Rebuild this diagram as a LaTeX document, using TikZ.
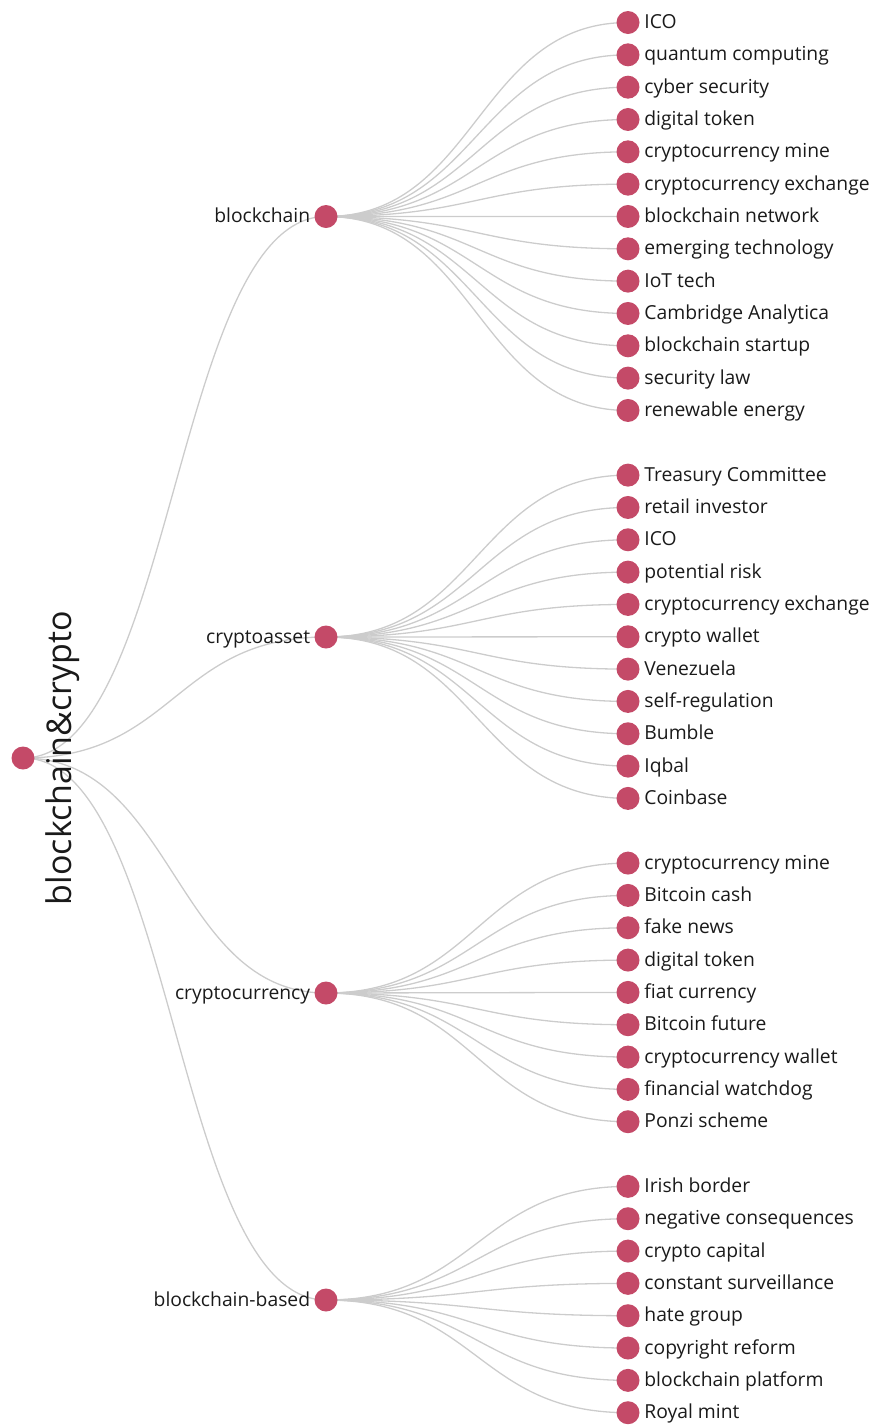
\documentclass[tikz,border=0pt]{standalone}
\usepackage{fontspec}
\setmainfont{Open Sans}
\usetikzlibrary{positioning,backgrounds}
\definecolor{dotred}{HTML}{C44A68}
\definecolor{linkgray}{HTML}{CCCCCC}
\definecolor{tagblack}{HTML}{1A1A1A}

\begin{document}
\begin{tikzpicture}[x=1pt, y=-1pt,
        dot/.style={circle, fill=dotred, minimum size=23pt, inner sep=0pt},
        tag/.style={font=\fontsize{19.3}{22}\selectfont, text=tagblack, inner sep=1pt,
            text height=15pt, text depth=3pt},
        roottag/.style={font=\fontsize{34}{38}\selectfont, text=tagblack, inner sep=0pt, rotate=90},
        link/.style={draw=linkgray, line width=1.3pt}
    ]
    \useasboundingbox (0,0) rectangle (876,1428);

    % root and first level
    \node[dot] (root) at (23,758) {};
    \node[roottag] (rootname) at (63,758) {blockchain\&crypto};

    \node[dot] (blockchain) at (326,216.5) {};
    \node[dot] (cryptoasset) at (326,637) {};
    \node[dot] (cryptocurrency) at (326,993) {};
    \node[dot] (based) at (326,1300) {};
    \node[tag, left=3pt of blockchain] {blockchain};
    \node[tag, left=3pt of cryptoasset] {cryptoasset};
    \node[tag, left=3pt of cryptocurrency] {cryptocurrency};
    \node[tag, left=3pt of based] {blockchain-based};

    % leaves
    \foreach \txt [count=\i from 0] in {ICO, quantum computing, cyber security, digital token,
        cryptocurrency mine, cryptocurrency exchange, blockchain network, emerging technology,
        IoT tech, Cambridge Analytica, blockchain startup, security law, renewable energy} {
        \node[dot] (a\i) at (628,22.5+32.33*\i) {};
        \node[tag, right=3.5pt of a\i] {\txt};
    }
    \foreach \txt [count=\i from 0] in {Treasury Committee, retail investor, ICO, potential risk,
        cryptocurrency exchange, crypto wallet, Venezuela, self-regulation, Bumble, Iqbal, Coinbase} {
        \node[dot] (b\i) at (628,22.5+32.33*14+32.33*\i) {};
        \node[tag, right=3.5pt of b\i] {\txt};
    }
    \foreach \txt [count=\i from 0] in {cryptocurrency mine, Bitcoin cash, fake news, digital token,
        fiat currency, Bitcoin future, cryptocurrency wallet, financial watchdog, Ponzi scheme} {
        \node[dot] (c\i) at (628,22.5+32.33*26+32.33*\i) {};
        \node[tag, right=3.5pt of c\i] {\txt};
    }
    \foreach \txt [count=\i from 0] in {Irish border, negative consequences, crypto capital,
        constant surveillance, hate group, copyright reform, blockchain platform, Royal mint} {
        \node[dot] (d\i) at (628,22.5+32.33*36+32.33*\i) {};
        \node[tag, right=3.5pt of d\i] {\txt};
    }

    % links
    \begin{scope}[on background layer]
        \foreach \n in {blockchain, cryptoasset, cryptocurrency, based}
            \draw[link] (root.center) .. controls +(151.5,0) and +(-151.5,0) .. (\n.center);
        \foreach \i in {0,...,12}
            \draw[link] (blockchain.center) .. controls +(151,0) and +(-151,0) .. (a\i.center);
        \foreach \i in {0,...,10}
            \draw[link] (cryptoasset.center) .. controls +(151,0) and +(-151,0) .. (b\i.center);
        \foreach \i in {0,...,8}
            \draw[link] (cryptocurrency.center) .. controls +(151,0) and +(-151,0) .. (c\i.center);
        \foreach \i in {0,...,7}
            \draw[link] (based.center) .. controls +(151,0) and +(-151,0) .. (d\i.center);
    \end{scope}

\end{tikzpicture}
\end{document}
